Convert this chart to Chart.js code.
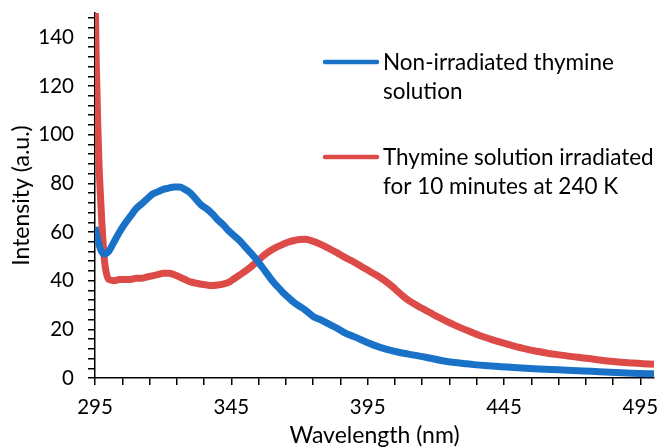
<!DOCTYPE html>
<html>
<head>
<meta charset="utf-8">
<script src="https://cdn.jsdelivr.net/npm/chart.js@4/dist/chart.umd.min.js"></script>
<style>
  html, body { margin: 0; padding: 0; background: #fff; }
  #wrap { width: 661px; height: 448px; position: relative; }
</style>
</head>
<body>
<div id="wrap"><canvas id="c" width="661" height="448"></canvas></div>
<script>
// ---- data ----
const seriesNames = ["Non-irradiated thymine solution", "Thymine solution irradiated for 10 minutes at 240 K"];
const legendLines = [["Non-irradiated thymine", "solution"], ["Thymine solution irradiated", "for 10 minutes at 240 K"]];

const blueWavelength = [295,296,297,298.5,300,302,304,306,308,310,312,314,316,318,320,322,324,326,328,330,332,334,336,338,340,342,344,346,348,350,352,354,356,358,360,362,364,366,368,370,372,375,378,381,384,387,390,394,398,402,406,410,414,418,422,426,430,434,438,442,446,450,456,462,468,474,480,486,492,500];
const blueIntensity  = [62,57,53,51,52,56,60,63.5,66.5,69.5,71.5,73.5,75.5,76.5,77.5,78,78.5,78.5,77.5,76,73.5,71,69.5,67.5,65,63,60.5,58.5,56.5,54,51.5,49,46,43,40,37.5,35,33,31,29.5,28,25.3,23.8,22,20.3,18.3,17,15,13.2,11.8,10.7,9.8,9,8.1,7.2,6.5,6,5.5,5.1,4.8,4.5,4.2,3.8,3.5,3.2,2.9,2.6,2.3,2,1.7];

const redWavelength = [295,295.5,296,296.5,297,297.5,298,298.5,299,300,302,304,306,308,310,312,314,316,318,320,322,324,326,328,330,332,334,336,338,340,342,344,346,348,350,352,354,356,358,360,362,364,366,368,370,372,374,376,378,380,382,384,386,388,390,392,394,396,398,400,402,404,406,408,410,412,414,416,418,420,424,428,432,436,440,444,448,452,456,460,464,468,472,476,480,484,488,492,496,500];
const redIntensity  = [160,128,105,87,75,64,55,48,44,40.5,40,40.5,40.5,40.5,41,41,41.5,42,42.5,43,43,42.5,41.5,40.5,39.5,39,38.5,38.2,38,38.2,38.6,39.3,40.8,42.3,43.8,45.5,47.5,49.5,51.3,52.8,54,55,55.9,56.5,56.9,57,56.6,55.8,54.8,53.7,52.5,51.3,50,48.8,47.6,46.3,45,43.7,42.4,41,39.4,37.6,35.6,33.6,31.9,30.5,29.2,28,26.8,25.5,23.3,21.2,19.3,17.5,16,14.6,13.3,12.2,11.2,10.4,9.7,9.1,8.5,8,7.4,6.9,6.5,6.2,5.9,5.6];

const xMajorTicks = [295,345,395,445,495];
const xMinorTicks = [305,315,325,335,355,365,375,385,405,415,425,435,455,465,475,485];
const yMajorTicks = [0,20,40,60,80,100,120,140];
const yMinorTicks = [4,8,12,16,24,28,32,36,44,48,52,56,64,68,72,76,84,88,92,96,104,108,112,116,124,128,132,136,144,148];

const xTitle = "Wavelength (nm)";
const yTitle = "Intensity (a.u.)";

const blueColor = "#1a72c8";
const redColor = "#dc4b47";
const fontFamily = "Lato, 'Open Sans', sans-serif";

function toPoints(xs, ys) { return xs.map((x, i) => ({ x: x, y: ys[i] })); }

function noScalePadding(scale) {
  scale.paddingTop = 0; scale.paddingBottom = 0; scale.paddingLeft = 0; scale.paddingRight = 0;
}

const legendPlugin = {
  id: 'insideLegend',
  afterDraw(chart) {
    const ctx = chart.ctx;
    const items = [
      { color: blueColor, lines: legendLines[0], y: 62 },
      { color: redColor, lines: legendLines[1], y: 157 }
    ];
    ctx.save();
    ctx.font = "22.5px " + fontFamily;
    ctx.fillStyle = "#000";
    ctx.textBaseline = "alphabetic";
    ctx.textAlign = "left";
    items.forEach(it => {
      ctx.strokeStyle = it.color;
      ctx.lineWidth = 4.5;
      ctx.lineCap = "round";
      ctx.beginPath();
      ctx.moveTo(325, it.y);
      ctx.lineTo(377, it.y);
      ctx.stroke();
      it.lines.forEach((t, k) => ctx.fillText(t, 383, it.y + 7.5 + k * 29));
    });
    ctx.restore();
  }
};

new Chart(document.getElementById('c'), {
  type: 'line',
  data: {
    datasets: [
      { label: seriesNames[0], data: toPoints(blueWavelength, blueIntensity), borderColor: blueColor, backgroundColor: blueColor, borderWidth: 7, pointRadius: 0, cubicInterpolationMode: 'monotone', borderJoinStyle: 'round' },
      { label: seriesNames[1], data: toPoints(redWavelength, redIntensity), borderColor: redColor, backgroundColor: redColor, borderWidth: 7, pointRadius: 0, cubicInterpolationMode: 'monotone', borderJoinStyle: 'round' }
    ]
  },
  options: {
    responsive: false,
    animation: false,
    events: [],
    layout: { padding: { left: 0, right: 7, top: 13, bottom: 0 } },
    plugins: { legend: { display: false }, tooltip: { enabled: false } },
    scales: {
      x: {
        type: 'linear', min: 295, max: 500,
        afterBuildTicks(scale) { scale.ticks = xMajorTicks.concat(xMinorTicks).sort((a, b) => a - b).map(v => ({ value: v })); },
        afterFit(scale) { scale.height = 70; noScalePadding(scale); },
        ticks: { autoSkip: false, maxRotation: 0, padding: 10, color: '#000', font: { family: fontFamily, size: 20.5 },
          callback: v => xMajorTicks.includes(v) ? String(v) : '' },
        grid: { drawOnChartArea: false, drawTicks: true, tickLength: 7, color: '#000', lineWidth: 1.5 },
        border: { display: true, color: '#000', width: 1.5 },
        title: { display: true, text: xTitle, color: '#000', font: { family: fontFamily, size: 23 }, padding: { top: 0, bottom: -1 } }
      },
      y: {
        type: 'linear', min: 0, max: 150,
        afterBuildTicks(scale) { scale.ticks = yMajorTicks.concat(yMinorTicks).sort((a, b) => a - b).map(v => ({ value: v })); },
        afterFit(scale) { scale.width = 95; noScalePadding(scale); },
        ticks: { autoSkip: false, padding: 14, color: '#000', font: { family: fontFamily, size: 20.5 },
          callback: v => yMajorTicks.includes(v) ? String(v) : '' },
        grid: { drawOnChartArea: false, drawTicks: true, tickLength: 7, color: '#000', lineWidth: 1.5 },
        border: { display: true, color: '#000', width: 1.5 },
        title: { display: true, text: yTitle, color: '#000', font: { family: fontFamily, size: 23 }, padding: { top: 8, bottom: 0 } }
      }
    }
  },
  plugins: [legendPlugin]
});
</script>
</body>
</html>
